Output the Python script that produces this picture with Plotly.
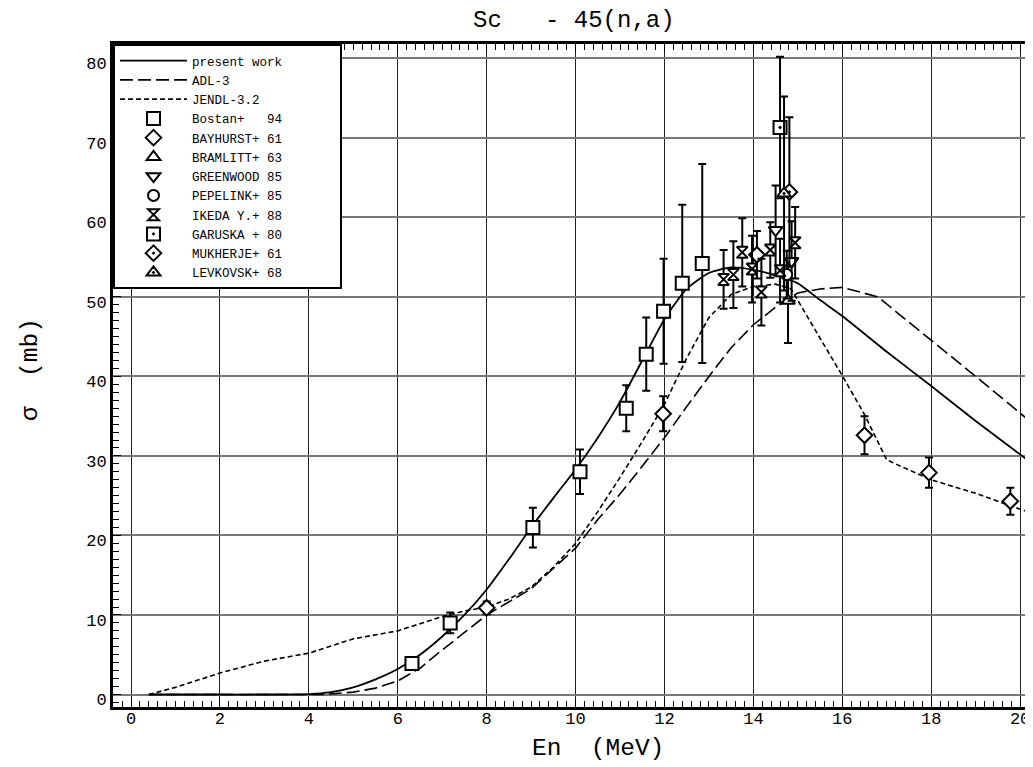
import plotly.graph_objects as go

FONT = "Liberation Mono, Courier New, monospace"
NB = "\u00a0"

# ---- evaluated curves ----
pw_e = [0.4, 1, 2, 3, 4, 4.5, 5, 5.5, 6, 6.5, 7, 7.5, 8, 8.5, 9, 9.5, 10, 10.5, 11, 11.5,
        12, 12.5, 13, 13.5, 14, 14.5, 15, 15.5, 16, 17, 18, 19, 20, 20.4]
pw_s = [0, 0, 0, 0, 0.05, 0.3, 0.9, 1.9, 3.2, 5.0, 7.3, 10.0, 13.2, 17.0, 21.0, 24.7, 28.3, 32.3, 36.8, 42.0,
        47.2, 51.0, 53.0, 53.7, 53.4, 52.7, 51.7, 49.6, 47.6, 43.1, 38.8, 34.4, 30.2, 28.5]

adl_e = [0.4, 2, 4, 4.3, 5, 5.5, 6, 6.5, 7, 7.5, 8, 9, 10, 10.5, 11, 11.5, 12, 12.5, 13, 13.5,
         14, 14.5, 15, 15.5, 16, 16.8, 17, 18, 19, 20, 20.4]
adl_s = [0, 0, 0, 0, 0.3, 0.8, 1.7, 3.3, 5.6, 7.8, 10.0, 13.3, 18.4, 22.0, 25.2, 28.7, 32.3, 36.2, 40.0, 43.6,
         46.5, 48.7, 50.5, 51.0, 51.2, 50.0, 49.1, 44.6, 40.0, 35.4, 33.5]

jendl_e = [0.4, 1, 2, 3, 4, 5, 6, 7, 7.5, 8, 8.5, 9, 9.5, 10, 10.5, 11, 11.5, 12, 12.5, 13,
           13.5, 14, 14.5, 14.85, 15.5, 16, 16.5, 17, 18, 19, 20, 20.4]
jendl_s = [0, 0.9, 2.7, 4.2, 5.2, 7.0, 8.0, 9.8, 10.5, 11.0, 12.0, 13.5, 16.0, 19.0, 23.0, 27.3, 31.8, 36.5, 42.3, 47.4,
           50.3, 51.3, 51.6, 51.0, 44.8, 40.1, 35.2, 29.5, 27.0, 25.3, 23.3, 22.6]

# ---- experimental data ----
bostan_e = [6.32, 7.18, 9.04, 10.1, 11.14, 11.59, 11.98, 12.4, 12.85]
bostan_s = [3.9, 9.0, 21.0, 28.0, 36.0, 42.8, 48.2, 51.7, 54.2]
bostan_d = [0.3, 1.3, 2.5, 2.8, 2.9, 4.6, 6.6, 9.9, 12.5]

bayhurst_e = [8.0, 11.97, 14.08, 16.5, 17.95, 19.78]
bayhurst_s = [10.9, 35.3, 55.3, 32.6, 27.9, 24.3]
bayhurst_d = [0.8, 2.2, 3.0, 2.4, 1.9, 1.7]

bramlitt_e = [14.78]
bramlitt_s = [49.5]
bramlitt_d = [5.3]

greenwood_e = [14.5, 14.86]
greenwood_s = [58.4, 54.5]
greenwood_d = [5.6, 5.0]

pepelink_e = [14.75]
pepelink_s = [52.8]
pepelink_d = [3.0]

ikeda_e = [13.33, 13.55, 13.75, 13.97, 14.18, 14.38, 14.6, 14.94]
ikeda_s = [52.2, 52.8, 55.6, 53.5, 50.6, 55.9, 53.3, 56.8]
ikeda_d = [3.7, 4.2, 4.3, 4.2, 4.2, 3.5, 4.0, 4.5]

garuska_e = [14.6]
garuska_s = [71.3]
garuska_d = [8.9]

mukherje_e = [14.81]
mukherje_s = [63.2]
mukherje_d = [9.4]

levkovsk_e = [14.69]
levkovsk_s = [63.0]
levkovsk_d = [12.2]

fig = go.Figure()

fig.add_trace(go.Scatter(x=pw_e, y=pw_s, mode="lines", name="present" + NB + "work" + NB * 7,
                         line=dict(color="black", width=1.8, shape="spline", smoothing=0.6)))
fig.add_trace(go.Scatter(x=adl_e, y=adl_s, mode="lines", name="ADL-3",
                         line=dict(color="black", width=1.6, dash="13px,5px")))
fig.add_trace(go.Scatter(x=jendl_e, y=jendl_s, mode="lines", name="JENDL-3.2",
                         line=dict(color="black", width=1.6, dash="5px,3px")))

def add_exp(xs, ys, ds, name, symbol, size):
    fig.add_trace(go.Scatter(
        x=xs, y=ys, mode="markers", name=name,
        marker=dict(symbol=symbol, size=size, color="white",
                    line=dict(color="black", width=2)),
        error_y=dict(type="data", array=ds, visible=True, color="black",
                     thickness=2, width=4)))

add_exp(bostan_e, bostan_s, bostan_d, "Bostan+" + NB * 3 + "94", "square", 13)
add_exp(bayhurst_e, bayhurst_s, bayhurst_d, "BAYHURST+" + NB + "61", "diamond", 12)
add_exp(bramlitt_e, bramlitt_s, bramlitt_d, "BRAMLITT+" + NB + "63", "triangle-up", 12)
add_exp(greenwood_e, greenwood_s, greenwood_d, "GREENWOOD" + NB + "85", "triangle-down", 12)
add_exp(pepelink_e, pepelink_s, pepelink_d, "PEPELINK+" + NB + "85", "circle", 11)
add_exp(ikeda_e, ikeda_s, ikeda_d, "IKEDA" + NB + "Y.+" + NB + "88", "hourglass", 11)
add_exp(garuska_e, garuska_s, garuska_d, "GARUSKA" + NB + "+" + NB + "80", "square-dot", 13)
add_exp(mukherje_e, mukherje_s, mukherje_d, "MUKHERJE+" + NB + "61", "diamond-dot", 12)
add_exp(levkovsk_e, levkovsk_s, levkovsk_d, "LEVKOVSK+" + NB + "68", "triangle-up-dot", 12)

# page has an 8px body margin: figure coordinates = page coordinates - 8
OFF = 8
W, H = 1033 - OFF, 767 - OFF
L, R, T = 113 - OFF, 0, 44 - OFF
B = H - (707 - OFF)
pw_w = W - L - R
pw_h = H - T - B

def px(xp):
    return (xp - OFF - L) / pw_w

def py(yp):
    return (H - B - (yp - OFF)) / pw_h

fig.update_layout(
    width=W, height=H, autosize=False,
    margin=dict(l=L, r=R, t=T, b=B, pad=0, autoexpand=False),
    paper_bgcolor="white", plot_bgcolor="white",
    font=dict(family=FONT, color="black"),
    showlegend=True,
    legend=dict(x=0, y=1, xanchor="left", yanchor="top",
                bgcolor="white", bordercolor="black", borderwidth=2,
                font=dict(family=FONT, size=12.5, color="black"),
                itemwidth=67, tracegroupgap=0, itemsizing="trace"),
    annotations=[
        dict(text="Sc" + NB * 3 + "-" + NB + "45(n,a)", x=px(574), y=py(21),
             xref="paper", yref="paper", showarrow=False,
             xanchor="center", yanchor="middle",
             font=dict(family=FONT, size=24, color="black")),
        dict(text="En" + NB * 2 + "(MeV)", x=px(598), y=py(748),
             xref="paper", yref="paper", showarrow=False,
             xanchor="center", yanchor="middle",
             font=dict(family=FONT, size=24.5, color="black")),
        dict(text="σ" + NB * 2 + "(mb)", x=px(30), y=py(370), textangle=-90,
             xref="paper", yref="paper", showarrow=False,
             xanchor="center", yanchor="middle",
             font=dict(family=FONT, size=24.5, color="black")),
    ],
)

fig.update_xaxes(
    range=[-0.405, 20.29], tick0=0, dtick=2, automargin=False,
    showline=True, linecolor="black", linewidth=3, mirror="allticks",
    ticks="inside", ticklen=8, tickcolor="black", tickwidth=1,
    ticklabelstandoff=-6,
    showgrid=True, gridcolor="#222222", gridwidth=1, zeroline=False,
    minor=dict(dtick=0.2, ticks="inside", ticklen=6, tickcolor="black", tickwidth=1, showgrid=False),
    tickfont=dict(family=FONT, size=17, color="black"),
)
fig.update_yaxes(
    range=[-1.57, 81.8], tick0=0, dtick=10, automargin=False,
    showline=True, linecolor="black", linewidth=3, mirror="allticks",
    ticks="inside", ticklen=8, tickcolor="black", tickwidth=1,
    ticklabelshift=5,
    showgrid=True, gridcolor="#777777", gridwidth=1.5, zeroline=False,
    minor=dict(dtick=1, ticks="inside", ticklen=6, tickcolor="black", tickwidth=1, showgrid=False),
    tickfont=dict(family=FONT, size=17, color="black"),
)

fig.write_html("out.html")
